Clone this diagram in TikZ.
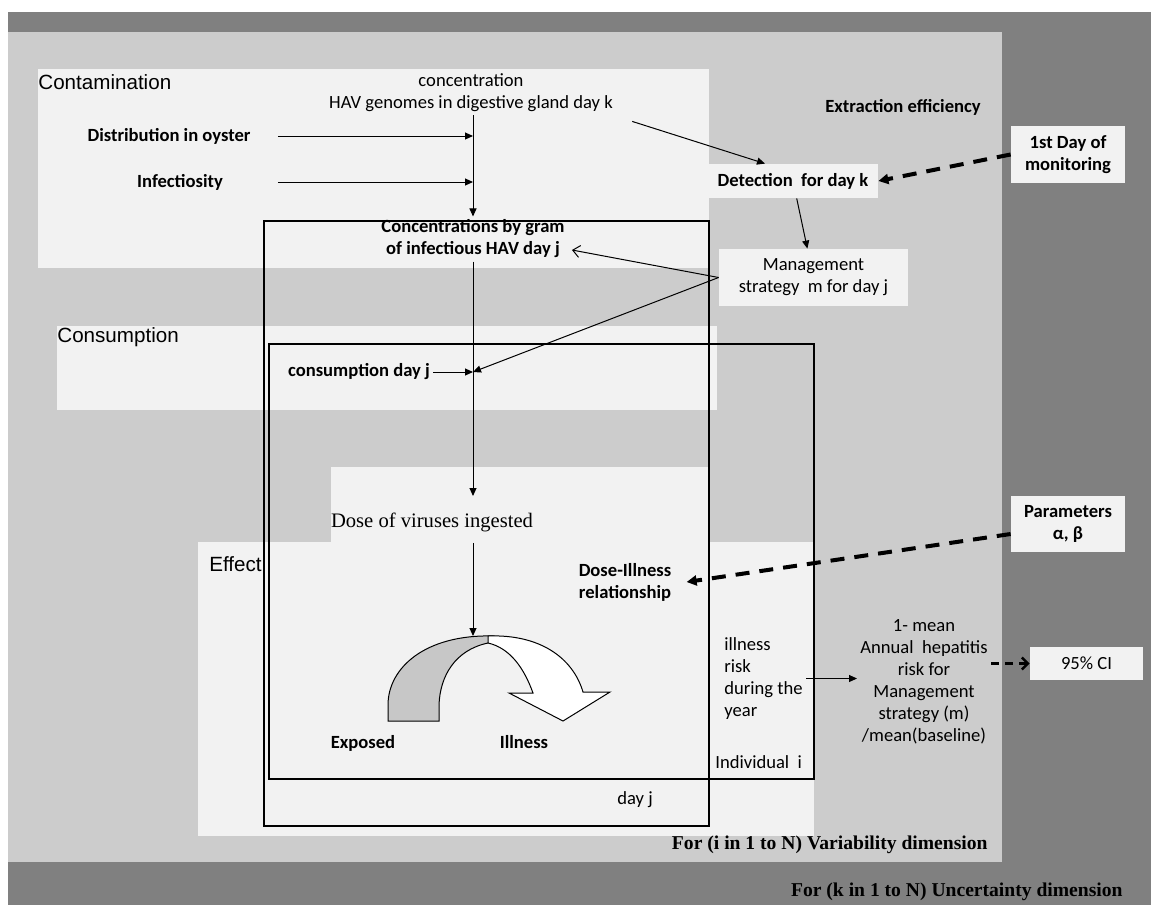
\documentclass[tikz,border=0pt]{standalone}
\usepackage{fontspec}
\setmainfont{Carlito}
\newfontfamily\arialfont{Liberation Sans}
\newfontfamily\timesfont{Liberation Serif}
\usetikzlibrary{positioning, arrows.meta}

\definecolor{darkbg}{gray}{0.5}
\definecolor{lightbg}{gray}{0.8}
\definecolor{palebox}{gray}{0.95}
\definecolor{arcgray}{gray}{0.78}

\tikzset{
  lbl/.style={font=\fontsize{9.3}{11}\selectfont, inner sep=1.5pt, align=center},
  lblb/.style={lbl, font=\fontsize{9.3}{11}\selectfont\bfseries},
  stage/.style={font=\arialfont\fontsize{10.3}{12}\selectfont, anchor=west, inner sep=0pt},
  dimlbl/.style={font=\timesfont\bfseries\fontsize{9.8}{12}\selectfont, inner sep=0pt, anchor=east},
  panel/.style={fill=palebox},
  arr/.style={-{Triangle[length=4pt,width=3.5pt]}, line width=0.5pt},
  openarr/.style={-{Straight Barb[length=3.5pt,width=6pt]}, line width=0.5pt},
  dasharr/.style={-{Triangle[length=5pt,width=5pt]}, line width=2pt, dash pattern=on 7pt off 5pt},
  ciarr/.style={-{Straight Barb[length=3pt,width=6pt]}, line width=1.2pt, dash pattern=on 4pt off 3pt},
}

\begin{document}
\begin{tikzpicture}[x=0.5pt, y=-0.5pt]
   \useasboundingbox (0,0) rectangle (1151,905);

   % Uncertainty and variability loops
   \fill[darkbg] (8,12) rectangle (1151,905);
   \fill[lightbg] (8,32) rectangle (1002,862);

   % Module panels
   \fill[palebox] (38,69) rectangle (709,268);
   \fill[palebox] (57,326) rectangle (717,410);
   \fill[palebox] (331,467) rectangle (709,542);
   \fill[palebox] (198,542) rectangle (814,836);

   % Day j and individual i frames
   \draw[line width=0.6pt] (264,221) rectangle (709,826);
   \draw[line width=0.6pt] (269,344) rectangle (814,779);

   % Stage titles
   \node[stage] (contam) at (38,82) {Contamination};
   \node[stage] (consum) at (57,337) {Consumption};
   \node[stage] (effect) at (209,564) {Effect};

   % Contamination
   \node[lbl] (conck) at (471,93) {concentration\\HAV genomes in digestive gland day k};
   \node[lblb] (distr) at (169,136) {Distribution in oyster};
   \node[lblb] (infect) at (180,182) {Infectiosity};
   \node[lblb] (concj) at (473,239) {Concentrations by gram\\of infectious HAV day j};

   % Detection and management
   \node[lblb] (extract) at (903,107) {Extraction efficiency};
   \node[lblb, panel, minimum width=85pt, minimum height=17pt] (detect) at (793,181) {Detection~ for day k};
   \node[lbl, panel, minimum width=94.5pt, minimum height=28.5pt] (manage) at (813.5,277.5) {Management\\strategy~ m for day j};
   \node[lblb, panel, minimum width=57pt, minimum height=28.5pt] (firstday) at (1068,154.5) {1st Day of\\monitoring};

   % Consumption
   \node[lblb] (consj) at (359,372) {consumption day j};
   \node[font=\timesfont\fontsize{10.3}{12}\selectfont, inner sep=1.5pt] (dose) at (432,522) {Dose of viruses ingested};

   % Effect
   \node[lblb] (doseill) at (625,582) {Dose-Illness\\relationship};
   \node[lblb, anchor=base] (exposed) at (363,748) {Exposed};
   \node[lblb, anchor=base] (illness) at (524,748) {Illness};
   \node[lbl, align=left, anchor=west] (risk) at (721,678.5) {illness\\risk\\during the\\year};
   \node[lbl, anchor=west] (indiv) at (712,762) {Individual~ i};
   \node[lbl] (dayj) at (635,800) {day j};

   % Outputs
   \node[lbl] (annual) at (924,682) {1- mean\\Annual~ hepatitis\\risk for\\Management\\strategy (m)\\/mean(baseline)};
   \node[lblb, panel, minimum width=57pt, minimum height=28pt] (params) at (1068,524) {Parameters\\α, β};
   \node[lbl, panel, minimum width=56.5pt, minimum height=16.5pt] (ci) at (1086.5,663.5) {95\% CI};

   % Loop labels
   \node[dimlbl] (vari) at (988,845) {For (i in 1 to N) Variability dimension};
   \node[dimlbl] (uncert) at (1123,892) {For (k in 1 to N) Uncertainty dimension};

   % Junctions on the main chain
   \coordinate (jcons) at (473,372);
   \coordinate (dosetop) at (473,496);
   \coordinate (arctop) at (473,636);

   % Exposed -> Illness arrow
   \filldraw[fill=arcgray, line width=0.5pt] (494,636) .. controls (425,634) and (388,668) .. (388,705) -- (388,721) -- (439,721) -- (439,705) .. controls (440,676) and (455,650) .. (488,643) -- cycle;
   \filldraw[fill=white, line width=0.5pt] (488,636) .. controls (540,634) and (573,658) .. (583,692) -- (610,692) -- (563,721) -- (509,693) -- (533,693) .. controls (524,668) and (510,648) .. (488,643) -- cycle;

   % Transitions
   \draw[arr] (conck.south -| concj) -- (concj);
   \draw[arr] ([xshift=12pt]distr.east) -- (distr -| concj);
   \draw[arr] ([xshift=12pt]distr.east |- infect) -- (infect -| concj);
   \draw[arr] ([shift={(8pt,-3pt)}]conck.south east) -- ([xshift=-14pt]detect.north);
   \draw[arr] (detect) -- (manage);
   \draw[dasharr] (firstday.west) -- (detect.east);
   \draw[openarr] (manage.west) -- ([shift={(2pt,-5.5pt)}]concj.east);
   \draw[arr] (manage.west) -- (jcons);
   \draw[arr] (consj) -- (jcons);
   \draw[arr] (concj) -- (dosetop);
   \draw[arr, shorten <=4pt] (dose.south -| arctop) -- (arctop);
   \draw[dasharr] ([yshift=-5pt]params.west) -- ([xshift=6pt]doseill.east);
   \draw[arr] (risk.east) -- (risk.east -| annual.west);
   \draw[ciarr] (annual.east |- ci.west) -- (ci.west);
\end{tikzpicture}
\end{document}
